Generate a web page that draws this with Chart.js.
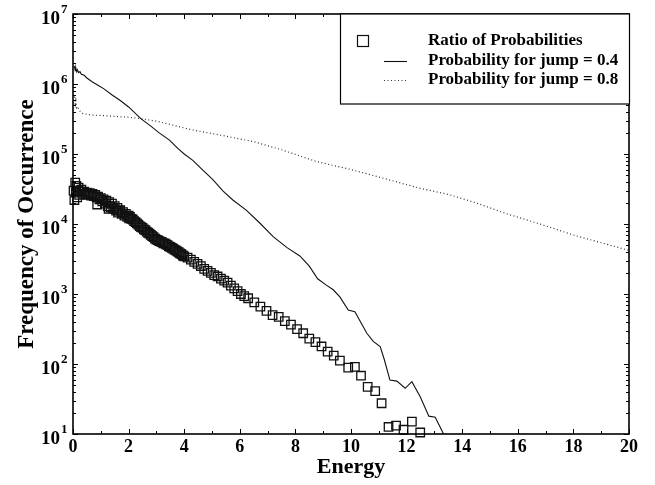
<!DOCTYPE html>
<html><head><meta charset="utf-8">
<script src="https://cdn.jsdelivr.net/npm/chart.js@4.4.1/dist/chart.umd.min.js"></script>
<style>html,body{margin:0;padding:0;background:#fff;}canvas{display:block;}</style>
</head><body>
<canvas id="c" width="655" height="485"></canvas>
<script>
// ---- data ----
const ratioEnergy = [0.02,0.05,0.08,0.1,0.12,0.15,0.18,0.2,0.22,0.25,0.3,0.35,0.4,0.45,0.5,0.55,0.6,0.65,0.7,0.75,0.8,0.85,0.87,0.9,0.95,1.0,1.05,1.1,1.15,1.2,1.25,1.28,1.3,1.35,1.4,1.45,1.5,1.55,1.6,1.62,1.65,1.7,1.75,1.8,1.85,1.9,1.95,2.0,2.02,2.05,2.1,2.15,2.2,2.25,2.3,2.35,2.4,2.45,2.5,2.55,2.6,2.65,2.7,2.75,2.8,2.85,2.9,2.95,3.0,3.05,3.1,3.15,3.2,3.25,3.3,3.35,3.4,3.45,3.5,3.55,3.6,3.65,3.7,3.75,3.8,3.85,3.9,3.95,4.0,4.12,4.24,4.36,4.48,4.6,4.72,4.84,4.96,5.08,5.2,5.32,5.44,5.56,5.68,5.8,5.92,6.04,6.16,6.3,6.52,6.74,6.96,7.18,7.4,7.62,7.84,8.06,8.28,8.5,8.72,8.94,9.16,9.38,9.6,9.9,10.14,10.36,10.6,10.87,11.1,11.35,11.62,11.89,12.19,12.49];
const ratioFreq = [30000,22000,39000,28000,35000,24000,30000,33000,26000,29000,31000,27000,29000,26500,28000,26000,27500,25500,27000,25000,26000,24000,19000,24500,22500,23500,21000,22500,19500,21500,18000,16500,20500,17500,19500,16500,18000,15500,17000,14500,15500,15800,14000,14800,13200,14000,12600,13200,12000,12600,11800,11600,11000,10600,10200,9800,9300,9000,8800,8400,8200,7800,7500,7300,7000,6700,6500,6200,6000,5900,5700,5600,5500,5300,5300,5100,5000,4800,4700,4550,4450,4300,4200,4050,3950,3800,3700,3550,3450,3310,3090,2880,2690,2510,2290,2140,2000,1860,1780,1660,1550,1450,1320,1200,1100,1000,930,870,760,660,575,500,470,410,365,315,275,230,205,178,150,132,112,89,91,68,47,41,27.5,12.6,13.2,11.5,15,10.5];

const jump04Energy = [0.05,0.08,0.1,0.13,0.16,0.2,0.25,0.3,0.4,0.5,0.7,0.9,1.1,1.42,1.7,2.0,2.44,2.8,3.1,3.47,3.77,4.0,4.31,4.67,5.03,5.4,5.75,6.23,6.7,7.2,7.7,8.16,8.5,8.8,9.1,9.36,9.6,9.9,10.14,10.3,10.57,10.8,11.05,11.2,11.4,11.65,11.95,12.19,12.49,12.8,13.03,13.33];
const jump04Freq = [1.8e6,1.55e6,1.7e6,1.5e6,1.6e6,1.45e6,1.5e6,1.38e6,1.33e6,1.22e6,1.07e6,9.6e5,8.6e5,6.9e5,5.8e5,4.7e5,3.2e5,2.5e5,2.0e5,1.58e5,1.2e5,1.0e5,8.1e4,5.9e4,4.3e4,2.95e4,2.2e4,1.58e4,1.05e4,6.6e3,4.6e3,3.5e3,2.5e3,1.65e3,1.35e3,1.15e3,910,590,560,430,275,210,178,115,59,57,45,56,34,18,17.4,10];

const jump08Energy = [0.05,0.08,0.1,0.13,0.17,0.22,0.34,0.5,0.7,1.0,1.5,2.0,2.44,3.0,3.4,4.31,5.5,6.5,7.5,8.76,10.0,11.17,12.4,13.57,14.5,15.6,16.8,18.03,19.0,20.0];
const jump08Freq = [6.6e5,5.2e5,5.8e5,4.6e5,4.8e5,4.2e5,3.8e5,3.7e5,3.6e5,3.55e5,3.45e5,3.35e5,3.2e5,2.95e5,2.7e5,2.2e5,1.8e5,1.5e5,1.15e5,7.8e4,6.0e4,4.5e4,3.3e4,2.6e4,2.0e4,1.4e4,1.0e4,6.9e3,5.4e3,4.2e3];

const xTickValues = [0,2,4,6,8,10,12,14,16,18,20];
const yExponents = [1,2,3,4,5,6,7];
const seriesLabels = ['Ratio of Probabilities','Probability for jump = 0.4','Probability for jump = 0.8'];
const axisTitles = {x:'Energy', y:'Frequency of Occurrence'};

const zip = (xs, ys) => xs.map((x,i)=>({x:x, y:ys[i]}));
const SERIF = "'Liberation Serif','Times New Roman',serif";

const frameAndLegend = {
  id:'frameAndLegend',
  afterDraw(chart){
    const ctx = chart.ctx, a = chart.chartArea, xs = chart.scales.x, ys = chart.scales.y;
    ctx.save();
    ctx.strokeStyle = '#000';
    ctx.lineWidth = 1;
    const seg=(x1,y1,x2,y2)=>{ctx.beginPath();ctx.moveTo(x1,y1);ctx.lineTo(x2,y2);ctx.stroke();};
    for (let i=0;i<xTickValues.length;i++){
      const v = xTickValues[i];
      const p = Math.round(xs.getPixelForValue(v))+0.5;
      seg(p,a.bottom,p,a.bottom-5); seg(p,a.top,p,a.top+5);
      if (i<xTickValues.length-1){
        const m = Math.round(xs.getPixelForValue((v+xTickValues[i+1])/2))+0.5;
        seg(m,a.bottom,m,a.bottom-3); seg(m,a.top,m,a.top+3);
      }
    }
    for (const e of yExponents){
      const base = Math.pow(10,e);
      const p = Math.round(ys.getPixelForValue(base))+0.5;
      seg(a.left,p,a.left+5,p); seg(a.right,p,a.right-5,p);
      if (e<7){
        for (let m=2;m<=9;m++){
          const q = Math.round(ys.getPixelForValue(m*base))+0.5;
          seg(a.left,q,a.left+3,q); seg(a.right,q,a.right-3,q);
        }
      }
    }
    ctx.lineWidth = 1.6;
    ctx.strokeRect(a.left, a.top, a.right-a.left, a.bottom-a.top);
    ctx.fillStyle = '#000';
    ctx.textBaseline = 'middle';
    for (const e of yExponents){
      const p = ys.getPixelForValue(Math.pow(10,e));
      ctx.font = 'bold 19px '+SERIF;
      ctx.textAlign = 'right';
      ctx.fillText('10', a.left-13, p+5);
      ctx.font = 'bold 13px '+SERIF;
      ctx.textAlign = 'left';
      ctx.fillText(String(e), a.left-12, p-4);
    }
    const ds = chart.data.datasets;
    const lx = 340, ly = a.top, lw = a.right-340, lh = 90;
    ctx.fillStyle = '#fff';
    ctx.fillRect(lx, ly, lw, lh);
    ctx.lineWidth = 1.2;
    ctx.strokeRect(lx+0.5, ly, lw, lh);
    const rows = [ly+27, ly+47, ly+66];
    ctx.font = 'bold 17px '+SERIF;
    ctx.textAlign = 'left';
    ctx.textBaseline = 'middle';
    for (let i=0;i<ds.length;i++){
      const y = rows[i];
      ctx.strokeStyle = ds[i].borderColor;
      ctx.lineWidth = ds[i].borderWidth;
      if (ds[i].showLine === false){
        ctx.lineWidth = 1.2;
        ctx.strokeRect(357.5, y-5.5, 11, 11);
      } else {
        ctx.setLineDash(ds[i].borderDash || []);
        seg(384, y+0.5, 407, y+0.5);
        ctx.setLineDash([]);
      }
      ctx.fillStyle = '#000';
      ctx.fillText(ds[i].label, 428, y);
    }
    ctx.restore();
  }
};

new Chart(document.getElementById('c'), {
  type:'line',
  data:{
    datasets:[
      {label:seriesLabels[0], data:zip(ratioEnergy, ratioFreq), showLine:false, pointStyle:'rect',
       pointRadius:6, pointBorderWidth:1.3, borderWidth:1.3, borderColor:'#111', backgroundColor:'rgba(0,0,0,0)',
       pointBackgroundColor:'rgba(0,0,0,0)', pointBorderColor:'#111', clip:false},
      {label:seriesLabels[1], data:zip(jump04Energy, jump04Freq), borderColor:'#111', borderWidth:1.1,
       pointRadius:0, tension:0, fill:false},
      {label:seriesLabels[2], data:zip(jump08Energy, jump08Freq), borderColor:'#333', borderWidth:1.2,
       borderDash:[1,2.5], pointRadius:0, tension:0, fill:false}
    ]
  },
  options:{
    responsive:false, animation:false, devicePixelRatio:1,
    layout:{padding:{left:0, right:26, top:14, bottom:0}},
    plugins:{legend:{display:false}, tooltip:{enabled:false}},
    scales:{
      x:{type:'linear', min:0, max:20,
         grid:{display:false, drawTicks:false}, border:{display:false},
         afterFit(s){ s.height = 51; },
         afterBuildTicks(s){ s.ticks = xTickValues.map(v=>({value:v})); },
         ticks:{color:'#000', font:{family:SERIF, size:18, weight:'bold'}, padding:3, maxRotation:0, autoSkip:false},
         title:{display:true, text:axisTitles.x, color:'#000', font:{family:SERIF, size:22, weight:'bold'}, padding:{top:0,bottom:4}}},
      y:{type:'logarithmic', min:10, max:1e7,
         grid:{display:false, drawTicks:false}, border:{display:false},
         afterFit(s){ s.width = 73; },
         ticks:{display:false},
         title:{display:true, text:axisTitles.y, color:'#000', font:{family:SERIF, size:23, weight:'bold', lineHeight:1}, padding:{top:16,bottom:0}}}
    }
  },
  plugins:[frameAndLegend]
});
</script>
</body></html>
